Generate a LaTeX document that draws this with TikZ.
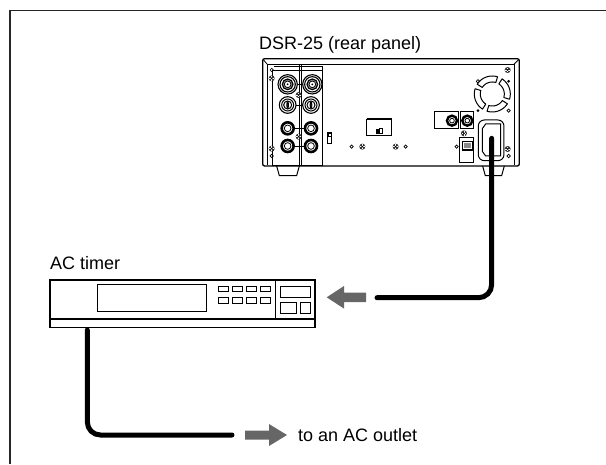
\documentclass[tikz,border=0pt]{standalone}
\usepackage{fontspec}
\setmainfont{Liberation Sans}
\begin{document}
\begin{tikzpicture}[x=1pt,y=-1pt,
  frameline/.style={line width=1.4pt,black!85},
  cable/.style={line width=5pt,line cap=round,rounded corners=13pt},
  flow/.style={fill=black!60,draw=none},
  lab/.style={anchor=base west,inner sep=0pt,font=\fontsize{18}{20}\selectfont},
  box/.style={draw,line width=1pt},
  thin/.style={draw,line width=.8pt},
]
\useasboundingbox (0,0) rectangle (606,464);
\draw[frameline] (10,464) -- (10,10.5) -- (606,10.5);

% DSR-25 rear panel, drawn in 3x crop coordinates
\begin{scope}[shift={(240pt,-30pt)},x=.3333pt,y=-.3333pt]
  \newcommand\screw[2]{\fill[black!80] (#1,#2) circle (9);\draw[white,line width=.4pt] (#1-7,#2)--(#1+7,#2) (#1,#2-7)--(#1,#2+7);\fill[black] (#1,#2) circle (3);}
  \newcommand\hole[2]{\draw[line width=.7pt] (#1,#2) circle (5);}
  \newcommand\bigjack[2]{\draw[line width=1.1pt] (#1,#2) circle (29) circle (23);\draw[line width=1.2pt,fill=black!35] (#1,#2) circle (16);\draw[line width=.8pt,fill=white] (#1,#2) circle (10);\fill (#1,#2) circle (3);}
  \newcommand\midjack[2]{\draw[line width=1.1pt] (#1,#2) circle (25);\draw[line width=1pt] (#1,#2) circle (18) circle (12);\draw[line width=1pt,fill=black!70] (#1,#2) ellipse (2.5 and 9);}
  \newcommand\bnc[2]{\draw[line width=2.4pt] (#1,#2) circle (15);\draw[line width=.8pt] (#1,#2) circle (7);}
  \newcommand\bncbig[2]{\draw[line width=2.6pt] (#1,#2) circle (18);\draw[line width=.8pt] (#1,#2) circle (10);}
  % body
  \draw[box,rounded corners=2pt,line width=1.3pt] (68,408) -- (68,86) -- (838,86) -- (838,408) -- cycle;
  \draw[thin] (82,405) -- (82,103) -- (822,103) -- (822,405);
  \draw[thin] (69,88) -- (82,103) (837,88) -- (822,103);
  % feet
  \draw[box] (110,408) -- (118,437) -- (170,437) -- (178,408);
  \draw[box] (728,408) -- (736,437) -- (785,437) -- (793,408);
  % boards
  \draw[thin] (96,405) -- (96,122) (96,122) -- (248,122) (103,108) -- (248,108) -- (248,405);
  \draw[thin] (178,106) -- (178,405) (183,106) -- (183,405);
  \draw[thin] (96,405) -- (248,405);
  % connector links
  \draw[line width=.9pt] (143,163) -- (217,163) (143,225) -- (213,225) (143,295) -- (213,295) (143,348) -- (213,348);
  \fill[white] (143,163) circle (29) (217,163) circle (29) (143,225) circle (25) (213,225) circle (25);
  \bigjack{143}{163}\bigjack{217}{163}
  \midjack{143}{225}\midjack{213}{225}
  \fill[white] (143,295) circle (19) (213,295) circle (19) (143,348) circle (19) (213,348) circle (19);
  \bncbig{143}{295}\bncbig{213}{295}\bncbig{143}{348}\bncbig{213}{348}
  % screws and holes
  \screw{95}{145}\screw{176}{195}\screw{176}{320}\screw{95}{356}
  \screw{803}{120}\screw{803}{357}\screw{367}{350}\screw{467}{350}\screw{672}{310}
  \hole{95}{120}\hole{95}{378}\hole{335}{350}\hole{497}{350}\hole{650}{350}\hole{806}{378}
  \hole{714}{154}\hole{806}{242}
  \fill (806,154) circle (4.5) (714,242) circle (4.5);
  % small switch
  \draw[thin] (263,308) rectangle (275,340);
  \fill (263,308) rectangle (275,322);
  \fill[white] (266,312) rectangle (272,318);
  % centre plate
  \draw[box] (380,317) -- (380,268) -- (455,268) -- (455,317) -- cycle;
  \draw[line width=1.4pt] (380,266) -- (455,266);
  \fill (408,296) rectangle (418,311);
  \draw[thin] (418,296) rectangle (428,311);
  % BNC plates
  \draw[box] (585,295) -- (585,245) -- (655,245) -- (655,295) -- cycle;
  \draw[box] (662,295) -- (662,245) -- (700,245) -- (700,295) -- cycle;
  \bnc{636}{272}\bnc{682}{272}
  % power switch
  \draw[box] (660,398) -- (660,322) -- (700,322) -- (700,398) -- cycle;
  \draw[line width=1.6pt] (667,335) rectangle (697,360);
  \fill[black!45] (672,340) rectangle (692,355);
  % inlet
  \draw[box,rounded corners=6pt] (715,392) -- (715,270) -- (792,270) -- (792,392) -- cycle;
  \draw[box] (737,282) -- (782,282) -- (782,378) -- (737,378) -- (727,364) -- (727,296) -- cycle;
  % fan: four curved blades
  \begin{scope}[shift={(757,192)}]
    \foreach \a in {25,115,205,295}
      \draw[line width=1pt,line join=round] plot[smooth,domain=\a+8:\a+82,samples=14] (\x:54) -- plot[smooth,domain=\a+82:\a+8,samples=14] (\x:36) -- cycle;
  \end{scope}
  \coordinate (plug) at (755,325);
\end{scope}

% AC timer
\node[draw,line width=1.3pt,inner sep=0pt,minimum width=265pt,minimum height=47.3pt] (timer) at (182.5,303.6) {};
\draw[line width=1.1pt] (50,319) -- (315,319) (275.7,280) -- (275.7,319);
\draw[line width=.8pt] (97.3,284.3) rectangle (206.7,311);
\foreach \x in {218.3,232.3,246.3,260.3}
  \draw[line width=.8pt] (\x,286) rectangle +(10,5) (\x,297.5) rectangle +(10,5.5);
\draw[line width=.8pt] (280.3,286.3) rectangle (310.3,297) (280.3,302.3) rectangle (296,313.7) (300,302.3) rectangle (310.3,313.7);

% labels
\node[lab] (dsr) at (259,49.5) {DSR-25 (rear panel)};
\node[lab] (ac) at (50,269.5) {AC timer};
\node[lab] (out) at (298,441) {to an AC outlet};

% cables
\coordinate (end1) at (377,297.7);
\coordinate (end2) at (232,435);
\coordinate (timerbot) at (87.3,330);
\draw[cable] (plug) |- (end1);
\draw[cable] (timerbot) |- (end2);

% flow arrows
\fill[flow] (326.7,297.3) -- (344,286) -- (344,292.7) -- (366,292.7) -- (366,302) -- (344,302) -- (344,308.6) -- cycle;
\fill[flow] (287,435) -- (269,424) -- (269,430.5) -- (245,430.5) -- (245,439.5) -- (269,439.5) -- (269,446) -- cycle;
\end{tikzpicture}
\end{document}
